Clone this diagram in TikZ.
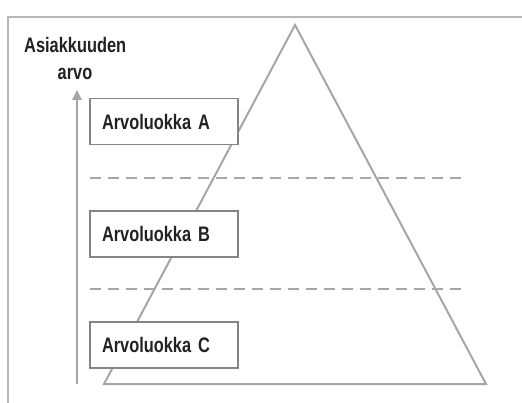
\documentclass[tikz,border=0pt]{standalone}
\usepackage{fontspec}
\setmainfont[FakeStretch=0.78,UprightFont=* Bold]{Liberation Sans}
\usetikzlibrary{arrows.meta}
\definecolor{framegray}{HTML}{B8B8B8}
\definecolor{linegray}{HTML}{A6A6A6}
\definecolor{boxgray}{HTML}{858585}
\definecolor{txt}{HTML}{222222}
\tikzset{
  classbox/.style={draw=boxgray, line width=1.5pt, fill=white, minimum width=148pt, minimum height=46pt,
    text width=124pt, align=left, inner sep=0pt, font=\fontsize{21}{24}\selectfont, text=txt},
  lbl/.style={font=\fontsize{21}{24}\selectfont, text=txt, inner sep=0pt},
  dashline/.style={draw=linegray, line width=2.6pt, dash pattern=on 11pt off 7pt},
  pyr/.style={draw=linegray, line width=2pt, line join=miter},
  framel/.style={draw=framegray, line width=2pt},
  valarrow/.style={draw=linegray, line width=2.4pt, -{Triangle[length=10pt,width=9pt]}}
}
\begin{document}
\begin{tikzpicture}[x=1pt,y=-1pt]
\useasboundingbox[fill=white] (0,0) rectangle (522,403);
% frame
\coordinate (fr1) at (522,17);
\coordinate (fr2) at (8,17);
\coordinate (fr3) at (8,403);
\draw[framel] (fr1) -- (fr2) -- (fr3);
% dashed separators
\coordinate (d1a) at (90,178);
\coordinate (d1b) at (466,178);
\coordinate (d2a) at (90,289);
\coordinate (d2b) at (466,289);
\draw[dashline] (d1a) -- (d1b);
\draw[dashline] (d2a) -- (d2b);
% pyramid
\coordinate (apex) at (295,25);
\coordinate (bl) at (104,384);
\coordinate (br) at (486,384);
\draw[pyr] (apex) -- (bl) -- (br) -- cycle;
% value arrow
\coordinate (arrlow) at (77,384);
\coordinate (arrtop) at (77,90);
\draw[valarrow] (arrlow) -- (arrtop);
% axis label
\node[lbl, anchor=base west] (ax1) at (24,53) {Asiakkuuden};
\node[lbl, anchor=base] (ax2) at (75,80) {arvo};
% class boxes
\node[classbox] (ca) at (164,121.5) {Arvoluokka A};
\node[classbox] (cb) at (164,234) {Arvoluokka B};
\node[classbox] (cc) at (164,345) {Arvoluokka C};
\end{tikzpicture}
\end{document}
